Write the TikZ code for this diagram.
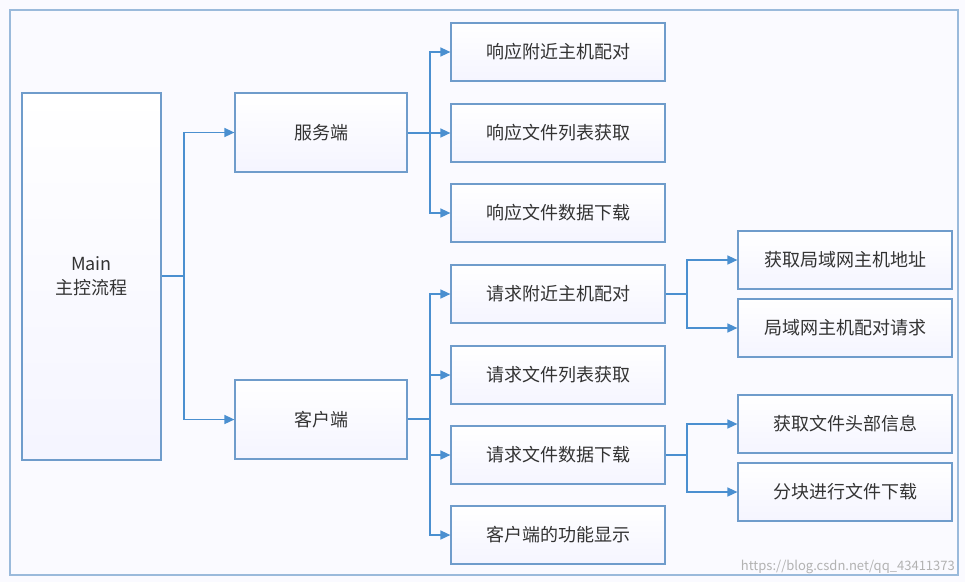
\documentclass[tikz,border=0pt]{standalone}
\usepackage{fontspec}
\setmainfont{Noto Sans CJK SC}
\usetikzlibrary{arrows.meta}
\definecolor{bl}{HTML}{4A8FD0}
\definecolor{bx}{HTML}{6F9CCB}
\begin{document}
\begin{tikzpicture}[x=1pt,y=-1pt,
 box/.style={draw=bx,line width=1.2pt,top color=white,bottom color=blue!4,font=\fontsize{18}{24}\selectfont,text=black!80,inner sep=0pt},
 ln/.style={draw=bl,line width=1.5pt},
 ar/.style={ln,-{Triangle[length=10pt,width=9pt]}}]
\useasboundingbox (0,0) rectangle (965,582);
\fill[blue!2] (0,0) rectangle (965,582);
\draw[bx!70,line width=1.2pt] (10,10) rectangle (958,575);
\newcommand\bx[5]{\node[box,minimum width=#4-#2,minimum height=#5-#3,align=center] (#1) at ({(#2+#4)/2},{(#3+#5)/2})}
\bx{m}{22}{93}{161}{460}{Main\\主控流程};
\bx{s}{235}{93}{407}{172}{服务端};
\bx{c}{235}{380}{407}{459}{客户端};
\bx{r1}{451}{23}{665}{81}{响应附近主机配对};
\bx{r2}{451}{104}{665}{162}{响应文件列表获取};
\bx{r3}{451}{184}{665}{242}{响应文件数据下载};
\bx{q1}{451}{265}{665}{323}{请求附近主机配对};
\bx{q2}{451}{346}{665}{404}{请求文件列表获取};
\bx{q3}{451}{426}{665}{484}{请求文件数据下载};
\bx{q4}{451}{506}{665}{564}{客户端的功能显示};
\bx{a1}{738}{231}{952}{289}{获取局域网主机地址};
\bx{a2}{738}{299}{952}{357}{局域网主机配对请求};
\bx{b1}{738}{395}{952}{453}{获取文件头部信息};
\bx{b2}{738}{463}{952}{521}{分块进行文件下载};
\coordinate (j0) at (184,276);
\draw[ln] (m.east|-j0) -- (j0);
\draw[ar] (j0) |- (s.west);
\draw[ar] (j0) |- (c.west);
\coordinate (j1) at (430,133);
\draw[ln] (s.east|-j1) -- (j1);
\foreach \n in {r1,r2,r3} \draw[ar] (j1) |- (\n.west);
\coordinate (j2) at (430,419);
\draw[ln] (c.east|-j2) -- (j2);
\foreach \n in {q1,q2,q3,q4} \draw[ar] (j2) |- (\n.west);
\coordinate (j3) at (687,294);
\draw[ln] (q1.east) -- (j3);
\foreach \n in {a1,a2} \draw[ar] (j3) |- (\n.west);
\coordinate (j4) at (687,455);
\draw[ln] (q3.east) -- (j4);
\foreach \n in {b1,b2} \draw[ar] (j4) |- (\n.west);
\node[anchor=south east,text=black!30,font=\fontsize{13}{15}\selectfont,inner sep=0pt] (wm) at (955,574) {https://blog.csdn.net/qq\_43411373};
\end{tikzpicture}
\end{document}
